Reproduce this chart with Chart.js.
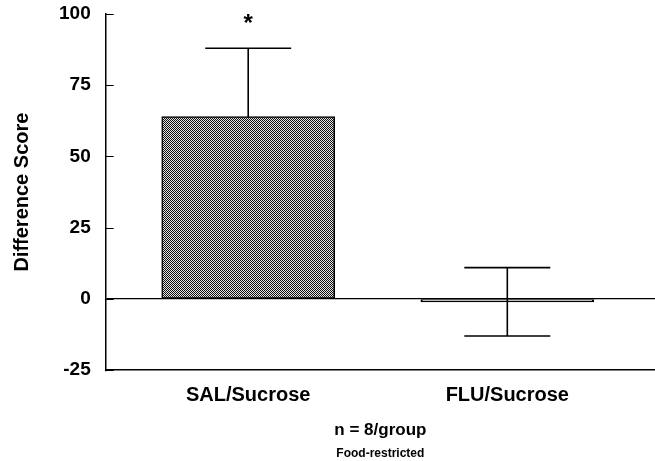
<!DOCTYPE html>
<html>
<head>
<meta charset="utf-8">
<script src="https://cdn.jsdelivr.net/npm/chart.js@4.4.1/dist/chart.umd.min.js"></script>
<style>
  html, body { margin: 0; padding: 0; background: #fff; }
  #wrap { width: 655px; height: 461px; }
</style>
</head>
<body>
<div id="wrap"><canvas id="chart"></canvas></div>
<script>
// data
const categories = ['SAL/Sucrose', 'FLU/Sucrose'];
const positions = [1, 2];
const means = [64, -1];
const errors = [24, 12];
const marks = ['*', ''];
const yTicks = [-25, 0, 25, 50, 75, 100];

const FONT = '"Liberation Sans", Arial, Helvetica, sans-serif';

// checkered fill like the printed halftone
function makePattern() {
    const c = document.createElement('canvas');
    c.width = 2; c.height = 2;
    const g = c.getContext('2d');
    g.fillStyle = '#e4e4e4';
    g.fillRect(0, 0, 2, 2);
    g.fillStyle = '#111111';
    g.fillRect(0, 0, 1, 1);
    g.fillRect(1, 1, 1, 1);
    return g.createPattern(c, 'repeat');
}

const errorBars = {
    id: 'errorBars',
    beforeDatasetsDraw(chart) {
        const { ctx, scales: { x, y } } = chart;
        ctx.save();
        ctx.strokeStyle = '#000';
        ctx.lineWidth = 1.6;
        positions.forEach((p, i) => {
            const px = x.getPixelForValue(p);
            const top = y.getPixelForValue(means[i] + errors[i]);
            const bot = y.getPixelForValue(means[i] - errors[i]);
            ctx.beginPath();
            ctx.moveTo(px, top); ctx.lineTo(px, bot);
            ctx.moveTo(px - 43, top); ctx.lineTo(px + 43, top);
            ctx.moveTo(px - 43, bot); ctx.lineTo(px + 43, bot);
            ctx.stroke();
        });
        ctx.restore();
    },
    afterDatasetsDraw(chart) {
        const { ctx, scales: { x, y } } = chart;
        ctx.save();
        ctx.fillStyle = '#000';
        ctx.font = 'bold 24px ' + FONT;
        ctx.textAlign = 'center';
        ctx.textBaseline = 'middle';
        positions.forEach((p, i) => {
            if (!marks[i]) return;
            const top = y.getPixelForValue(means[i] + errors[i]);
            ctx.fillText(marks[i], x.getPixelForValue(p), top - 24);
        });
        ctx.restore();
    },
    afterDraw(chart) {
        // tick marks point into the plot
        const { ctx, scales: { y } } = chart;
        ctx.save();
        ctx.strokeStyle = '#000';
        ctx.lineWidth = 1;
        yTicks.forEach(v => {
            const py = Math.round(y.getPixelForValue(v)) + 0.5;
            ctx.beginPath();
            ctx.moveTo(y.right, py);
            ctx.lineTo(y.right + 8, py);
            ctx.stroke();
        });
        ctx.restore();
    }
};

new Chart(document.getElementById('chart'), {
    type: 'bar',
    data: {
        datasets: [{
            data: positions.map((p, i) => ({ x: p, y: means[i] })),
            backgroundColor: [makePattern(), 'rgba(0,0,0,0)'],
            borderColor: '#000',
            borderWidth: 1.5,
            borderSkipped: false,
            barThickness: 173
        }]
    },
    options: {
        responsive: true,
        maintainAspectRatio: false,
        animation: false,
        layout: { padding: { left: 10, top: 14, right: 0, bottom: 0 } },
        plugins: {
            legend: { display: false },
            tooltip: { enabled: false },
            title: {
                display: true,
                fullSize: false,
                text: 'Food-restricted',
                position: 'bottom',
                color: '#000',
                font: { family: FONT, size: 12, weight: 'bold' },
                padding: { top: 6, bottom: 0 }
            }
        },
        scales: {
            x: {
                type: 'linear',
                offset: false,
                bounds: 'ticks',
                min: 0.45,
                max: 2.57,
                afterBuildTicks: scale => { scale.ticks = positions.map(v => ({ value: v })); },
                grid: { display: false, drawTicks: false },
                border: { color: '#000', width: 1.5 },
                ticks: {
                    color: '#000',
                    padding: 13,
                    maxRotation: 0,
                    font: { family: FONT, size: 20, weight: 'bold' },
                    callback: v => categories[positions.indexOf(v)] || ''
                },
                title: {
                    display: true,
                    text: 'n = 8/group',
                    color: '#000',
                    font: { family: FONT, size: 17, weight: 'bold' },
                    padding: { top: 0, bottom: 0 }
                }
            },
            y: {
                min: -25,
                max: 100,
                afterBuildTicks: scale => { scale.ticks = yTicks.map(v => ({ value: v })); },
                afterFit: scale => { scale.paddingTop = 0; scale.paddingBottom = 0; },
                grid: {
                    drawTicks: false,
                    color: c => (c.tick && c.tick.value === 0 ? '#000' : 'rgba(0,0,0,0)'),
                    lineWidth: 1.2
                },
                border: { color: '#000', width: 1.5 },
                ticks: {
                    color: '#000',
                    padding: 15,
                    font: { family: FONT, size: 19, weight: 'bold' }
                },
                title: {
                    display: true,
                    text: 'Difference Score',
                    color: '#000',
                    font: { family: FONT, size: 20, weight: 'bold' },
                    padding: { top: 0, bottom: 10 }
                }
            }
        }
    },
    plugins: [errorBars]
});
</script>
</body>
</html>
